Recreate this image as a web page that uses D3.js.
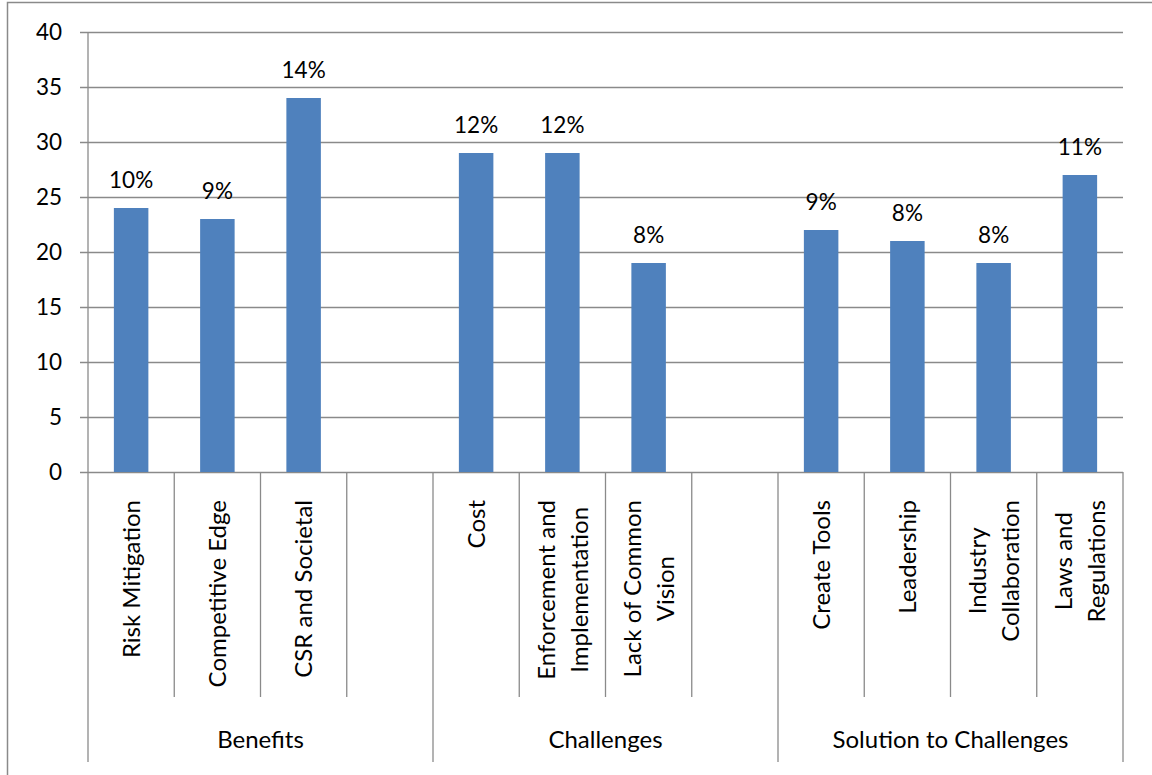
<!DOCTYPE html>
<html>
<head>
<meta charset="utf-8">
<script src="https://cdn.jsdelivr.net/npm/d3@7"></script>
<style>
  html, body { margin: 0; padding: 0; background: #fff; }
  svg { display: block; }
  text { font-family: Lato, "Open Sans", sans-serif; fill: #000; }
</style>
</head>
<body>
<svg id="chart" width="1152" height="775"></svg>
<script>
// Survey responses grouped into three themes; an empty slot closes the first two groups.
const groups = ["Benefits", "Challenges", "Solution to Challenges"];
const categories = [
  "Risk Mitigation", "Competitive Edge", "CSR and Societal", "",
  "Cost", "Enforcement and\nImplementation", "Lack of Common\nVision", "",
  "Create Tools", "Leadership", "Industry\nCollaboration", "Laws and\nRegulations"
];
const slotGroup = [0, 0, 0, 0, 1, 1, 1, 1, 2, 2, 2, 2];
const counts = [24, 23, 34, null, 29, 29, 19, null, 22, 21, 19, 27];
const shares = ["10%", "9%", "14%", null, "12%", "12%", "8%", null, "9%", "8%", "8%", "11%"];
const yTicks = [0, 5, 10, 15, 20, 25, 30, 35, 40];

const svg = d3.select("#chart");
const plotLeft = 88, plotRight = 1123, plotTop = 32, plotBottom = 472;
const gridColor = "#8a8a8a";
const numSize = 22.5;   // axis numbers and percentages
const textSize = 24;    // category and group names

// Outer chart frame
svg.append("rect")
  .attr("x", 7.5).attr("y", 2.5)
  .attr("width", 1200).attr("height", 800)
  .attr("fill", "none").attr("stroke", gridColor).attr("stroke-width", 1.5);

const slots = d3.range(categories.length);
const x = d3.scaleBand().domain(slots).range([plotLeft, plotRight])
  .paddingInner(0.6).paddingOuter(0.3);
const step = x.step();
const y = d3.scaleLinear().domain([0, 40]).range([plotBottom, plotTop]);

// Horizontal gridlines with left tick marks
const yAxis = d3.axisLeft(y).tickValues(yTicks)
  .tickSize(plotRight - plotLeft).tickSizeOuter(0)
  .tickFormat(d3.format("d"));
const gy = svg.append("g").attr("transform", `translate(${plotRight},0)`).call(yAxis);
gy.select(".domain").remove();
gy.selectAll(".tick line").attr("stroke", gridColor).attr("stroke-width", 1.3)
  .attr("x1", 0).attr("x2", -(plotRight - plotLeft) - 8);
gy.selectAll(".tick text")
  .attr("x", -(plotRight - plotLeft) - 26)
  .attr("font-size", numSize).attr("fill", "#000")
  .attr("font-family", "Lato, 'Open Sans', sans-serif");

// Bars
svg.append("g").selectAll("rect")
  .data(slots.filter(i => counts[i] != null))
  .join("rect")
  .attr("x", i => x(i))
  .attr("width", x.bandwidth())
  .attr("y", i => y(counts[i]))
  .attr("height", i => y(0) - y(counts[i]))
  .attr("fill", "#4f81bd");

// Share labels above bars
svg.append("g").selectAll("text")
  .data(slots.filter(i => shares[i] != null))
  .join("text")
  .attr("x", i => x(i) + x.bandwidth() / 2)
  .attr("y", i => y(counts[i]) - 20)
  .attr("text-anchor", "middle")
  .attr("font-size", numSize)
  .text(i => shares[i]);

// Vertical axis line
const lines = svg.append("g").attr("stroke", gridColor).attr("stroke-width", 1.3);
lines.append("line").attr("x1", plotLeft).attr("x2", plotLeft).attr("y1", plotTop).attr("y2", 762);

// Category separators: short ones inside groups, long ones at group edges
const slotEdge = i => plotLeft + i * step;
d3.range(1, categories.length).forEach(i => {
  const groupEdge = slotGroup[i] !== slotGroup[i - 1];
  lines.append("line")
    .attr("x1", slotEdge(i)).attr("x2", slotEdge(i))
    .attr("y1", plotBottom).attr("y2", groupEdge ? 762 : 697);
});
lines.append("line").attr("x1", plotRight).attr("x2", plotRight).attr("y1", plotBottom).attr("y2", 762);

// Rotated category labels, top-aligned just below the axis
const labelTop = 500, lineGap = 33;
const catG = svg.append("g");
slots.forEach(i => {
  if (!categories[i]) return;
  const parts = categories[i].split("\n");
  const cx = x(i) + x.bandwidth() / 2;
  const t = catG.append("text")
    .attr("font-size", textSize)
    .attr("text-anchor", "middle");
  parts.forEach((p, k) => {
    t.append("tspan").attr("x", 0)
      .attr("y", (k - (parts.length - 1) / 2) * lineGap)
      .attr("dy", "0.36em")
      .text(p);
  });
  const len = d3.max(t.selectAll("tspan").nodes(), n => n.getComputedTextLength());
  t.attr("transform", `translate(${cx},${labelTop + len / 2}) rotate(-90)`);
});

// Group labels
svg.append("g").selectAll("text")
  .data(groups)
  .join("text")
  .attr("x", (g, gi) => {
    const idx = slots.filter(i => slotGroup[i] === gi);
    return (slotEdge(idx[0]) + slotEdge(idx[idx.length - 1] + 1)) / 2;
  })
  .attr("y", 748)
  .attr("text-anchor", "middle")
  .attr("font-size", textSize)
  .text(g => g);
</script>
</body>
</html>
